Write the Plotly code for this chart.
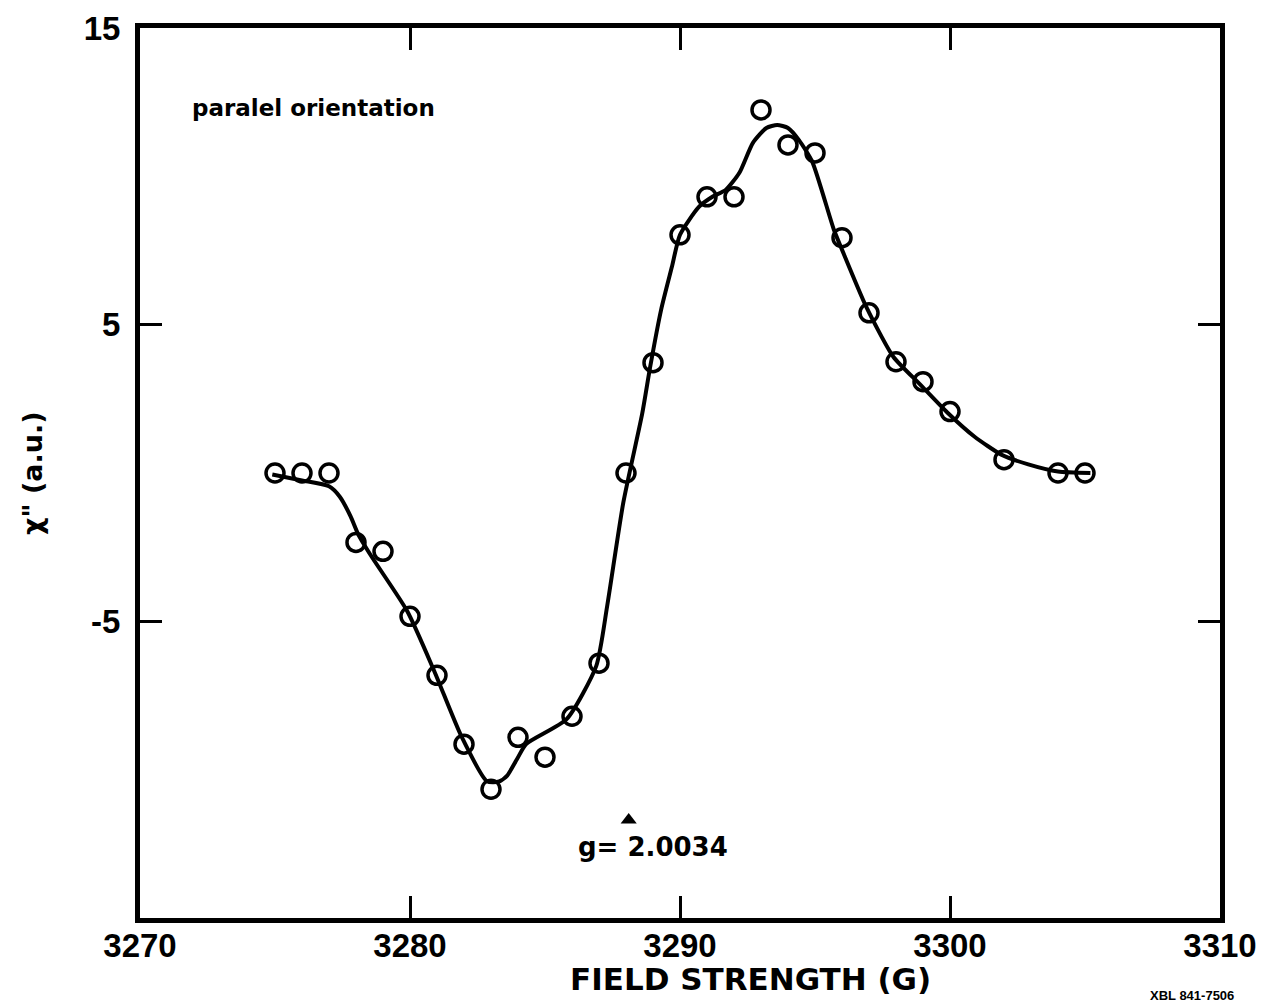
import plotly.graph_objects as go

# measured points (open circles)
field_pts = [3275, 3276, 3277, 3278, 3279, 3280, 3281, 3282, 3283, 3284, 3285, 3286, 3287,
             3288, 3289, 3290, 3291, 3292, 3293, 3294, 3295, 3296, 3297, 3298, 3299, 3300,
             3302, 3304, 3305]
chi_pts = [0, 0, 0, -2.34, -2.64, -4.83, -6.82, -9.14, -10.66, -8.91, -9.58, -8.20, -6.41,
           0, 3.72, 8.03, 9.31, 9.31, 12.24, 11.06, 10.79, 7.93, 5.4, 3.75, 3.08, 2.07,
           0.45, 0, 0]

# smooth fitted curve
field_curve = [3274.9, 3276, 3277, 3277.4, 3277.8, 3278.1, 3278.6, 3279.9, 3280.9, 3281.9,
               3282.85, 3283.3, 3283.6, 3283.96, 3284.3, 3285.8, 3286.9, 3287.3, 3287.9,
               3288.6, 3288.9, 3289.3, 3289.7, 3290, 3290.7, 3291.2, 3291.7, 3292.2, 3292.7,
               3293.2, 3293.6, 3294, 3294.4, 3294.9, 3295.7, 3296, 3296.9, 3297.9, 3298.9,
               3299.9, 3300.9, 3301.9, 3302.9, 3304, 3305.2]
chi_curve = [-0.05, -0.25, -0.45, -0.8, -1.46, -2.1, -2.85, -4.66, -6.68, -8.87,
             -10.39, -10.4, -10.2, -9.65, -9.14, -8.3, -6.5, -4.5, -1.0,
             2.0, 3.6, 5.5, 6.95, 8.03, 8.97, 9.31, 9.55, 10.12, 11.13,
             11.63, 11.73, 11.63, 11.23, 10.49, 8.2, 7.53, 5.6, 3.92, 2.98,
             2.04, 1.23, 0.62, 0.29, 0.05, 0]

x_ticks = [3270, 3280, 3290, 3300, 3310]
x_ticktext = ["3270", "3280", "3290", "3300", "3310"]
y_ticks = [15, 5, -5]
y_ticktext = ["15", "5", "-5"]

g_field = 3288.1
g_label = "g= 2.0034"

FONT = "Liberation Sans, Arial, sans-serif"
WIDE = "DejaVu Sans, sans-serif"

fig = go.Figure()
fig.add_trace(go.Scatter(x=field_curve, y=chi_curve, mode="lines",
                         line=dict(color="black", width=4, shape="spline", smoothing=0.6),
                         showlegend=False, hoverinfo="skip"))
fig.add_trace(go.Scatter(x=field_pts, y=chi_pts, mode="markers",
                         marker=dict(symbol="circle-open", size=18, color="black",
                                     line=dict(width=3.5, color="black")),
                         showlegend=False))
fig.add_trace(go.Scatter(x=[g_field], y=[-11.7], mode="markers",
                         marker=dict(symbol="triangle-up", size=14, color="black"),
                         showlegend=False, hoverinfo="skip"))

axis_common = dict(showgrid=False, zeroline=False, showline=True, linecolor="black",
                   linewidth=5, mirror="allticks", ticks="inside", tickwidth=3,
                   tickcolor="black", ticklen=22,
                   tickfont=dict(family=FONT, size=33, color="black", weight="bold"))

fig.update_xaxes(range=[3270, 3310], tickvals=x_ticks, ticktext=x_ticktext,
                 ticklabelstandoff=-6, **axis_common)
fig.update_yaxes(range=[-15, 15], tickvals=y_ticks, ticktext=y_ticktext,
                 ticklabelstandoff=8, **axis_common)

fig.add_annotation(x=3271.85, y=12.3, xref="x", yref="y", text="paralel orientation",
                   showarrow=False, xanchor="left", yanchor="middle",
                   font=dict(family=WIDE, size=23, color="black", weight="bold"))
fig.add_annotation(x=3289.0, y=-12.6, xref="x", yref="y", text=g_label,
                   showarrow=False, xanchor="center", yanchor="middle",
                   font=dict(family=WIDE, size=26, color="black", weight="bold"))
fig.add_annotation(x=0.565, y=-0.068, xref="paper", yref="paper",
                   text="FIELD STRENGTH (G)", showarrow=False,
                   xanchor="center", yanchor="middle",
                   font=dict(family=WIDE, size=31, color="black", weight="bold"))
fig.add_annotation(x=-0.1, y=0.5, xref="paper", yref="paper",
                   text="χ\" (a.u.)", showarrow=False, textangle=-90,
                   xanchor="center", yanchor="middle",
                   font=dict(family=WIDE, size=27, color="black", weight="bold"))
fig.add_annotation(x=1.015, y=-0.076, xref="paper", yref="paper",
                   text="XBL 841-7506", showarrow=False,
                   xanchor="right", yanchor="top",
                   font=dict(family=FONT, size=13, color="black", weight="bold"))

fig.update_layout(width=1264, height=1005,
                  margin=dict(l=140, r=44, t=28, b=87, autoexpand=False),
                  paper_bgcolor="white", plot_bgcolor="white")

fig.write_html("out.html")
